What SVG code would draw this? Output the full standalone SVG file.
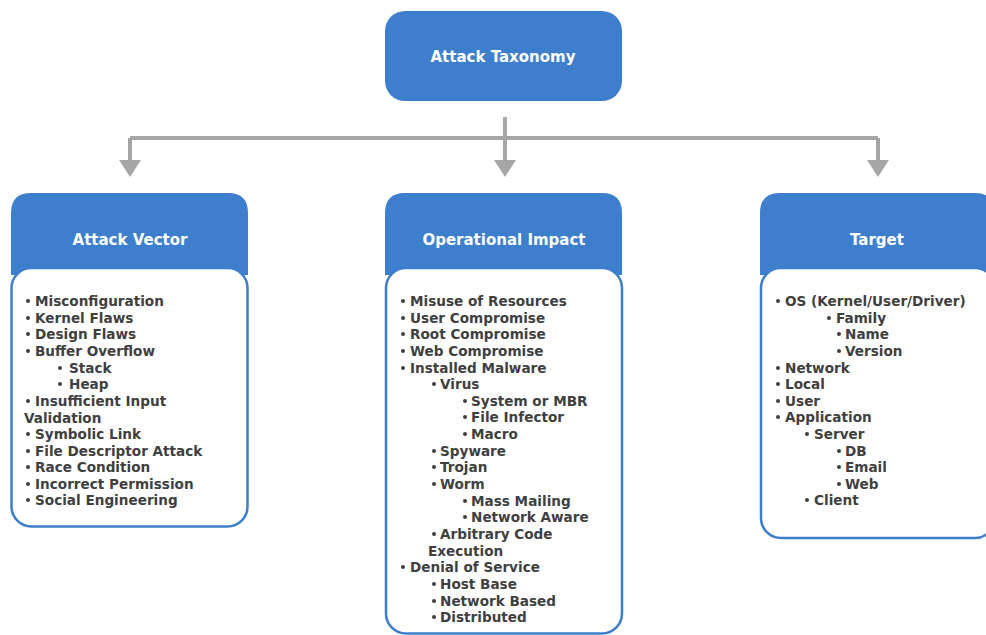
<svg xmlns="http://www.w3.org/2000/svg" width="986" height="635" viewBox="0 0 986 635">
<defs>
<style>
.hdr{fill:#3d7fcc}
.body{fill:#ffffff;stroke:#3d7fcc;stroke-width:2.5}
.ht{font-family:"DejaVu Sans","Liberation Sans",sans-serif;font-weight:bold;font-size:14px;fill:#ffffff;text-anchor:middle}
.it{font-family:"DejaVu Sans","Liberation Sans",sans-serif;font-weight:bold;font-size:13.6px;fill:#3f3f3f}
.b{fill:#3f3f3f}
.con{fill:none;stroke:#a6a6a6;stroke-width:4}
.ah{fill:#a6a6a6}
</style>
</defs>
<rect width="986" height="635" fill="#ffffff"/>

<g id="connectors">
<path class="con" d="M505 117 V160 M130 138 H878 M130 138 V160 M878 138 V160"/>
<polygon class="ah" points="119,160 141,160 130,177"/>
<polygon class="ah" points="494,160 516,160 505,177"/>
<polygon class="ah" points="867,160 889,160 878,177"/>
</g>

<g id="root">
<rect class="hdr" x="385" y="11" width="237" height="90" rx="20"/>
<text class="ht" x="503" y="62" style="font-size:15px">Attack Taxonomy</text>
</g>

<g id="attack-vector">
<path class="hdr" d="M11 275 V213 Q11 193 31 193 H228 Q248 193 248 213 V275 Z"/>
<text class="ht" x="130" y="245" style="font-size:15px">Attack Vector</text>
<rect class="body" x="11.5" y="268" width="236" height="258.5" rx="20"/>
<g class="b">
<circle cx="28" cy="301" r="2"/><circle cx="28" cy="318" r="2"/><circle cx="28" cy="334" r="2"/><circle cx="28" cy="351" r="2"/>
<circle cx="60" cy="368" r="2"/><circle cx="60" cy="384" r="2"/>
<circle cx="28" cy="401" r="2"/>
<circle cx="28" cy="434" r="2"/><circle cx="28" cy="451" r="2"/><circle cx="28" cy="467" r="2"/><circle cx="28" cy="484" r="2"/><circle cx="28" cy="500" r="2"/>
</g>
<text class="it" x="35" y="306">Misconfiguration</text>
<text class="it" x="35" y="323">Kernel Flaws</text>
<text class="it" x="35" y="339">Design Flaws</text>
<text class="it" x="35" y="356">Buffer Overflow</text>
<text class="it" x="69" y="373">Stack</text>
<text class="it" x="69" y="389">Heap</text>
<text class="it" x="35" y="406">Insufficient Input</text>
<text class="it" x="24" y="423">Validation</text>
<text class="it" x="35" y="439">Symbolic Link</text>
<text class="it" x="35" y="456">File Descriptor Attack</text>
<text class="it" x="35" y="472">Race Condition</text>
<text class="it" x="35" y="489">Incorrect Permission</text>
<text class="it" x="35" y="505">Social Engineering</text>
</g>

<g id="operational-impact">
<path class="hdr" d="M385 275 V213 Q385 193 405 193 H602 Q622 193 622 213 V275 Z"/>
<text class="ht" x="504" y="245" style="font-size:15px">Operational Impact</text>
<rect class="body" x="386" y="268" width="236" height="365.5" rx="20"/>
<g class="b">
<circle cx="403" cy="301" r="2"/><circle cx="403" cy="318" r="2"/><circle cx="403" cy="334" r="2"/><circle cx="403" cy="351" r="2"/><circle cx="403" cy="368" r="2"/>
<circle cx="434" cy="384" r="2"/>
<circle cx="465" cy="401" r="2"/><circle cx="465" cy="417" r="2"/><circle cx="465" cy="434" r="2"/>
<circle cx="434" cy="451" r="2"/><circle cx="434" cy="467" r="2"/><circle cx="434" cy="484" r="2"/>
<circle cx="465" cy="501" r="2"/><circle cx="465" cy="517" r="2"/>
<circle cx="434" cy="534" r="2"/>
<circle cx="403" cy="567" r="2"/>
<circle cx="434" cy="584" r="2"/><circle cx="434" cy="601" r="2"/><circle cx="434" cy="617" r="2"/>
</g>
<text class="it" x="410" y="306">Misuse of Resources</text>
<text class="it" x="410" y="323">User Compromise</text>
<text class="it" x="410" y="339">Root Compromise</text>
<text class="it" x="410" y="356">Web Compromise</text>
<text class="it" x="410" y="373">Installed Malware</text>
<text class="it" x="440" y="389">Virus</text>
<text class="it" x="471" y="406">System or MBR</text>
<text class="it" x="471" y="422">File Infector</text>
<text class="it" x="471" y="439">Macro</text>
<text class="it" x="440" y="456">Spyware</text>
<text class="it" x="440" y="472">Trojan</text>
<text class="it" x="440" y="489">Worm</text>
<text class="it" x="471" y="506">Mass Mailing</text>
<text class="it" x="471" y="522">Network Aware</text>
<text class="it" x="440" y="539">Arbitrary Code</text>
<text class="it" x="428" y="556">Execution</text>
<text class="it" x="410" y="572">Denial of Service</text>
<text class="it" x="440" y="589">Host Base</text>
<text class="it" x="440" y="606">Network Based</text>
<text class="it" x="440" y="622">Distributed</text>
</g>

<g id="target">
<path class="hdr" d="M760 275 V213 Q760 193 780 193 H975 Q995 193 995 213 V275 Z"/>
<text class="ht" x="877" y="245" style="font-size:15px">Target</text>
<rect class="body" x="761" y="268" width="234" height="270" rx="20"/>
<g class="b">
<circle cx="778" cy="301" r="2"/>
<circle cx="829" cy="318" r="2"/>
<circle cx="839" cy="334" r="2"/><circle cx="839" cy="351" r="2"/>
<circle cx="778" cy="368" r="2"/><circle cx="778" cy="384" r="2"/><circle cx="778" cy="401" r="2"/><circle cx="778" cy="417" r="2"/>
<circle cx="807" cy="434" r="2"/>
<circle cx="839" cy="451" r="2"/><circle cx="839" cy="467" r="2"/><circle cx="839" cy="484" r="2"/>
<circle cx="807" cy="500" r="2"/>
</g>
<text class="it" x="785" y="306">OS (Kernel/User/Driver)</text>
<text class="it" x="836" y="323">Family</text>
<text class="it" x="845" y="339">Name</text>
<text class="it" x="845" y="356">Version</text>
<text class="it" x="785" y="373">Network</text>
<text class="it" x="785" y="389">Local</text>
<text class="it" x="785" y="406">User</text>
<text class="it" x="785" y="422">Application</text>
<text class="it" x="814" y="439">Server</text>
<text class="it" x="845" y="456">DB</text>
<text class="it" x="845" y="472">Email</text>
<text class="it" x="845" y="489">Web</text>
<text class="it" x="814" y="505">Client</text>
</g>
</svg>
